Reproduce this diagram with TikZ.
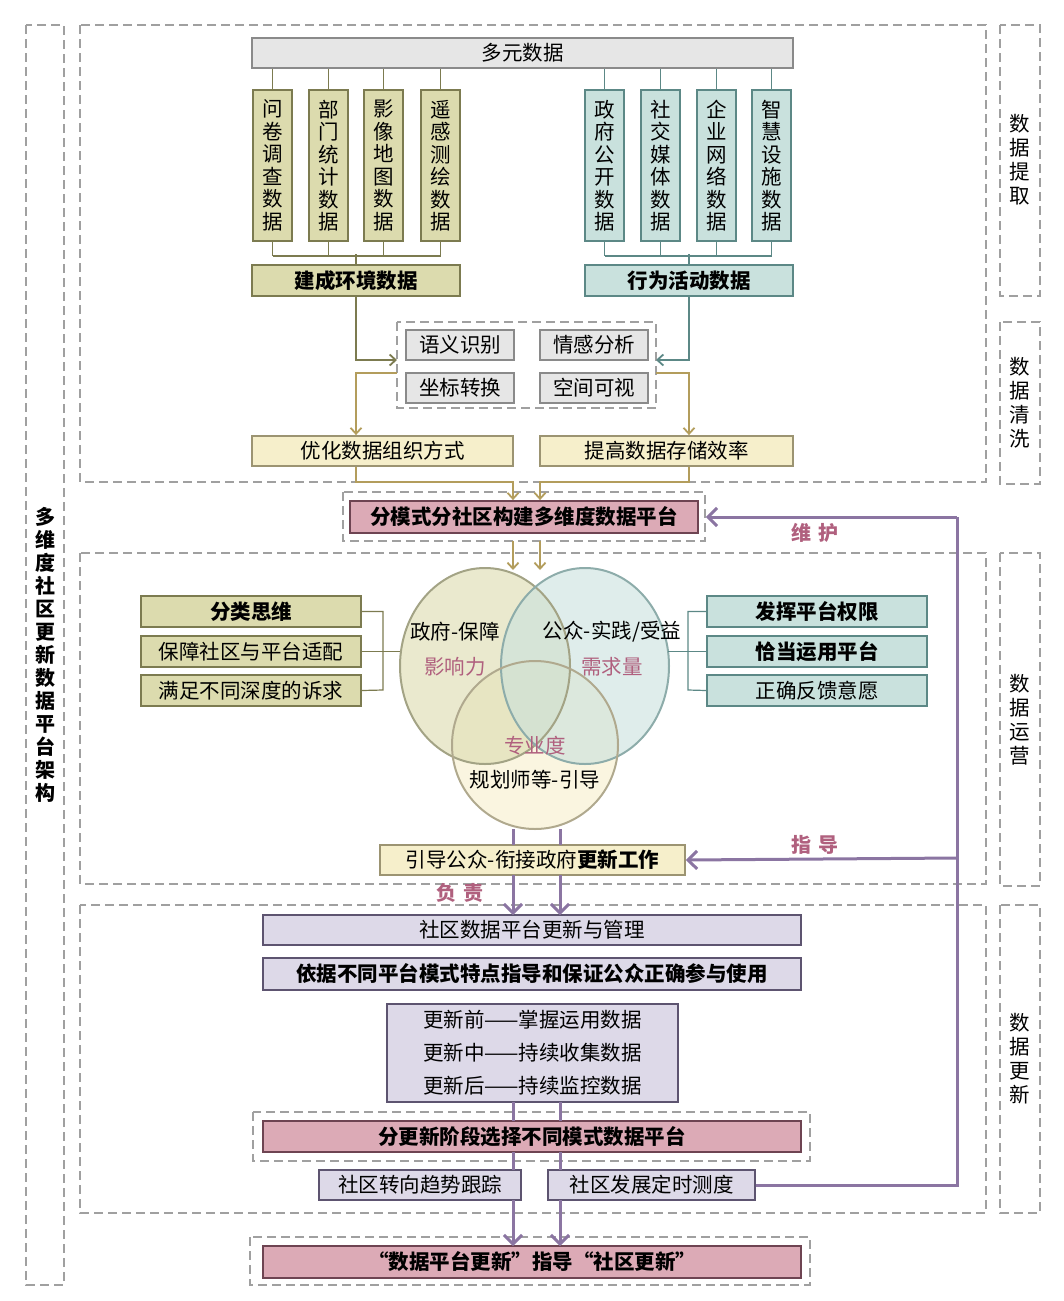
\documentclass[tikz,border=0pt]{standalone}
\usepackage{fontspec}
\setmainfont{Noto Sans CJK SC}
\usetikzlibrary{arrows.meta}
\definecolor{olf}{HTML}{DCDBAE}\definecolor{old}{HTML}{7C7B50}
\definecolor{tef}{HTML}{C9E1DD}\definecolor{ted}{HTML}{5C8886}
\definecolor{grf}{HTML}{E6E6E6}\definecolor{grd}{HTML}{8A8A8A}
\definecolor{crf}{HTML}{F6EFCB}\definecolor{crd}{HTML}{9C9472}
\definecolor{pkf}{HTML}{DCAAB6}\definecolor{pkd}{HTML}{6E4452}
\definecolor{lvf}{HTML}{DDD9E8}\definecolor{lvd}{HTML}{5D5470}
\definecolor{pur}{HTML}{8B75A2}\definecolor{gold}{HTML}{B39D5C}
\definecolor{pktx}{HTML}{B0607E}\definecolor{dsh}{HTML}{A0A0A0}
\newcommand\bx[7]{\node[#2,minimum width=#5pt-#3pt,minimum height=#6pt-#4pt] (#1) at ({(#3+#5)/2},{-(#4+#6)/2}) {#7};}
\newcommand\vb[4]{\node[#2,minimum width=39pt,minimum height=151pt,font=\fontsize{20.5}{22.5}\selectfont] (#1) at (#3+19.5,-165.5) {#4};}
\newcommand\dbox[4]{\draw[dashbox] (#1,-#2) rectangle (#3,-#4);}
\begin{document}
\begin{tikzpicture}[x=1pt,y=1pt,
  base/.style={draw,line width=1.8pt,inner sep=0pt,align=center,font=\fontsize{20.5}{23}\selectfont},
  bf/.style={font=\fontsize{20.5}{23}\selectfont\bfseries},
  ol/.style={base,fill=olf,draw=old},
  te/.style={base,fill=tef,draw=ted},
  gr/.style={base,fill=grf,draw=grd},
  cr/.style={base,fill=crf,draw=crd},
  pk/.style={base,fill=pkf,draw=pkd,bf},
  lv/.style={base,fill=lvf,draw=lvd},
  dashbox/.style={draw=dsh,line width=1.3pt,dash pattern=on 9pt off 5pt},
  oll/.style={draw=old,line width=1.8pt},
  tel/.style={draw=ted,line width=1.8pt},
  gdl/.style={draw=gold,line width=1.8pt,-{Straight Barb[length=6pt,width=11pt]}},
  pl/.style={draw=pur,line width=3pt},
  pa/.style={pl,-{Straight Barb[length=9pt,width=18pt]}},
  lab/.style={text=pktx,font=\fontsize{20}{22}\selectfont\bfseries},
  ell/.style={line width=2pt,fill opacity=0.6}
]
\useasboundingbox (0,0) rectangle (1063,-1301);
% frames
\dbox{26}{25}{64}{1285}
\node[font=\fontsize{20}{23}\selectfont\bfseries,align=center] (ttl) at (45,-655) {多\\维\\度\\社\\区\\更\\新\\数\\据\\平\\台\\架\\构};
\dbox{80}{25}{986}{482}\dbox{80}{553}{986}{884}\dbox{80}{905}{986}{1213}
\dbox{1000}{25}{1040}{296}\dbox{1000}{322}{1040}{484}\dbox{1000}{553}{1040}{886}\dbox{1000}{905}{1040}{1213}
\node[font=\fontsize{20.5}{24}\selectfont,align=center] (l1) at (1020,-160) {数\\据\\提\\取};
\node[font=\fontsize{20.5}{24}\selectfont,align=center] (l2) at (1020,-403) {数\\据\\清\\洗};
\node[font=\fontsize{20.5}{24}\selectfont,align=center] (l3) at (1020,-720) {数\\据\\运\\营};
\node[font=\fontsize{20.5}{24}\selectfont,align=center] (l4) at (1020,-1059) {数\\据\\更\\新};
% ---- extraction
\bx{top}{gr}{252}{38}{793}{68}{多元数据}
\vb{a1}{ol}{253}{问\\卷\\调\\查\\数\\据}
\vb{a2}{ol}{309}{部\\门\\统\\计\\数\\据}
\vb{a3}{ol}{364}{影\\像\\地\\图\\数\\据}
\vb{a4}{ol}{421}{遥\\感\\测\\绘\\数\\据}
\vb{b1}{te}{585}{政\\府\\公\\开\\数\\据}
\vb{b2}{te}{641}{社\\交\\媒\\体\\数\\据}
\vb{b3}{te}{697}{企\\业\\网\\络\\数\\据}
\vb{b4}{te}{752}{智\\慧\\设\\施\\数\\据}
\bx{env}{ol,bf}{252}{265}{460}{296}{建成环境数据}
\bx{act}{te,bf}{585}{265}{793}{296}{行为活动数据}
\foreach \n in {a1,a2,a3,a4}{\draw[oll] (\n.north) -- (\n.north|-top.south); \draw[oll] (\n.south) -- ++(0,-14);}
\foreach \n in {b1,b2,b3,b4}{\draw[tel] (\n.north) -- (\n.north|-top.south); \draw[tel] (\n.south) -- ++(0,-14);}
\draw[oll] ([yshift=-14pt]a1.south) -- ([yshift=-14pt]a4.south);
\draw[oll] (env.north) -- ++(0,10);
\draw[tel] ([yshift=-14pt]b1.south) -- ([yshift=-14pt]b4.south);
\draw[tel] (act.north) -- ++(0,10);
% ---- cleaning
\dbox{397}{322}{656}{408}
\coordinate (cl) at (397,-360); \coordinate (cr) at (656,-360);
\coordinate (cl2) at (397,-373); \coordinate (cr2) at (656,-373);
\bx{s1}{gr}{406}{330}{514}{360}{语义识别}
\bx{s2}{gr}{540}{330}{648}{360}{情感分析}
\bx{s3}{gr}{406}{373}{514}{403}{坐标转换}
\bx{s4}{gr}{540}{373}{648}{403}{空间可视}
\draw[oll,-{Straight Barb[length=6pt,width=11pt]}] (env.south) |- (cl);
\draw[tel,-{Straight Barb[length=6pt,width=11pt]}] (act.south) |- (cr);
\bx{o1}{cr}{252}{436}{513}{466}{优化数据组织方式}
\bx{o2}{cr}{540}{436}{793}{466}{提高数据存储效率}
\draw[gdl] (cl2) -| (o1.north-|env.south);
\draw[gdl] (cr2) -| (o2.north-|act.south);
% ---- platform
\dbox{343}{492}{705}{541}
\bx{plat}{pk}{350}{501}{698}{533}{分模式分社区构建多维度数据平台}
\draw[gdl] (o1.south-|env.south) |- (513,-482) -- (plat.north-|513,0);
\draw[gdl] (o2.south-|act.south) |- (540,-482) -- (plat.north-|540,0);
% ---- circles
\fill[crf,ell] (535,-745) ellipse (83 and 84);
\fill[olf,ell] (485,-666) ellipse (85 and 98);
\fill[tef,ell] (585,-666) ellipse (84 and 98);
\draw[old!70,line width=2pt] (485,-666) ellipse (85 and 98);
\draw[ted!70,line width=2pt] (585,-666) ellipse (84 and 98);
\draw[crd!80,line width=2pt] (535,-745) ellipse (83 and 84);
\node[font=\fontsize{20.5}{22}\selectfont] (t1) at (455,-632) {政府-保障};
\node[font=\fontsize{20.5}{22}\selectfont,text=pktx] (t2) at (455,-667) {影响力};
\node[font=\fontsize{20.5}{22}\selectfont] (t3) at (612,-632) {公众-实践/受益};
\node[font=\fontsize{20.5}{22}\selectfont,text=pktx] (t4) at (612,-667) {需求量};
\node[font=\fontsize{20.5}{22}\selectfont,text=pktx] (t5) at (535,-746) {专业度};
\node[font=\fontsize{20.5}{22}\selectfont] (t6) at (535,-780) {规划师等-引导};
\draw[gdl] (513,-541) -- (513,-570);
\draw[gdl] (540,-541) -- (540,-570);
% side boxes
\bx{L1}{ol,bf}{141}{596}{361}{627}{分类思维}
\bx{L2}{ol}{141}{636}{361}{667}{保障社区与平台适配}
\bx{L3}{ol}{141}{675}{361}{706}{满足不同深度的诉求}
\bx{R1}{te,bf}{707}{596}{927}{627}{发挥平台权限}
\bx{R2}{te,bf}{707}{636}{927}{667}{恰当运用平台}
\bx{R3}{te}{707}{675}{927}{706}{正确反馈意愿}
\draw[oll,line width=1.2pt] (L1.east) -| (383,-690) -- (L3.east);
\draw[oll,line width=1.2pt] (L2.east) -- (400,-651.5);
\draw[tel,line width=1.2pt] (R1.west) -| (688,-690) -- (R3.west);
\draw[tel,line width=1.2pt] (R2.west) -- (668,-651.5);
% guide box
\bx{gd}{cr}{380}{845}{685}{875}{引导公众-衔接政府\textbf{更新工作}}
\draw[pl] (513,-829) -- (513,-845);
\draw[pl] (560,-829) -- (560,-845);
\node[lab] (fz) at (460,-893) {负\,\,责};
% ---- update
\bx{u1}{lv}{263}{915}{801}{945}{社区数据平台更新与管理}
\draw[pa] (513,-875) -- (513,-915);
\draw[pa] (560,-875) -- (560,-915);
\bx{u2}{lv,bf}{263}{958}{801}{990}{依据不同平台模式特点指导和保证公众正确参与使用}
\bx{u3}{lv,font=\fontsize{20.5}{33}\selectfont}{387}{1004}{678}{1102}{更新前——掌握运用数据\\更新中——持续收集数据\\更新后——持续监控数据}
\dbox{253}{1112}{810}{1161}
\bx{u4}{pk}{263}{1121}{801}{1152}{分更新阶段选择不同模式数据平台}
\draw[pl] (513,-1102) -- (513,-1121);
\draw[pl] (560,-1102) -- (560,-1121);
\bx{u5}{lv}{319}{1170}{521}{1200}{社区转向趋势跟踪}
\bx{u6}{lv}{548}{1170}{755}{1200}{社区发展定时测度}
\draw[pl] (513,-1152) -- (513,-1170);
\draw[pl] (560,-1152) -- (560,-1170);
\dbox{250}{1237}{810}{1285}
\bx{fin}{pk}{263}{1246}{801}{1278}{“数据平台更新”指导“社区更新”}
\draw[pa] (513,-1200) -- (513,-1246);
\draw[pa] (560,-1200) -- (560,-1246);
% feedback
\coordinate (fb1) at (957,-517); \coordinate (fb2) at (957,-858);
\draw[pl] (u6.east) -| (fb1);
\draw[pa] (fb1) -- ([xshift=7pt]plat.east);
\draw[pa] (fb2) -- (gd.east);
\node[lab] (wh) at (815,-533) {维\,\,护};
\node[lab] (zd) at (815,-845) {指\,\,导};
\end{tikzpicture}
\end{document}
